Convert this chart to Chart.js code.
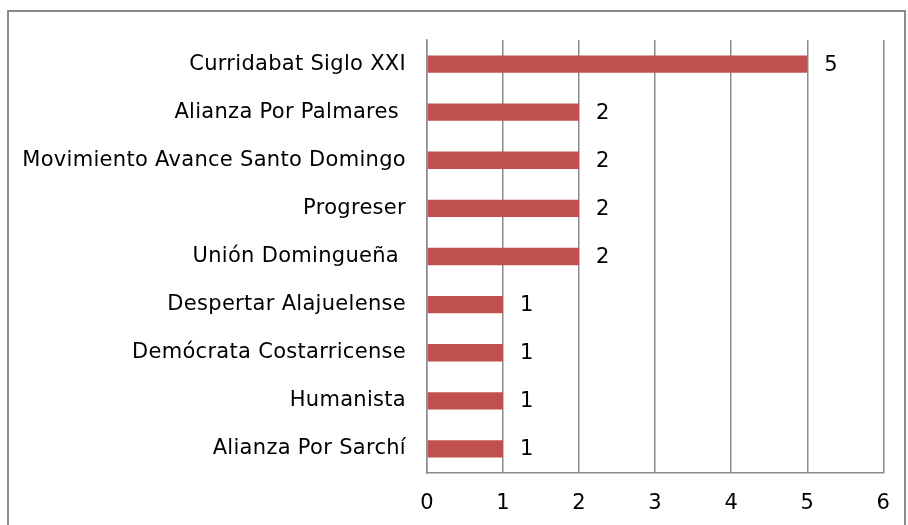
<!DOCTYPE html>
<html>
<head>
<meta charset="utf-8">
<script src="https://cdn.jsdelivr.net/npm/chart.js@4"></script>
<style>
    body { margin: 0; background: #fff; }
    #marco { position: absolute; left: 7px; top: 10px; width: 895px; height: 530px; border: 2px solid #8c8c8c; }
    #contenedor { position: absolute; left: 0; top: 0; width: 908px; height: 525px; }
</style>
</head>
<body>
<div id="marco"></div>
<div id="contenedor"><canvas id="grafico" width="908" height="525"></canvas></div>
<script>
const partidos = [
    'Curridabat Siglo XXI',
    'Alianza Por Palmares ',
    'Movimiento Avance Santo Domingo',
    'Progreser',
    'Unión Domingueña ',
    'Despertar Alajuelense',
    'Demócrata Costarricense',
    'Humanista',
    'Alianza Por Sarchí'
];
const valores = [5, 2, 2, 2, 2, 1, 1, 1, 1];
const marcasEje = [0, 1, 2, 3, 4, 5, 6];

const fuente = { family: '"DejaVu Sans", Verdana, sans-serif', size: 21 };

// un poco de espaciado para parecerse a Verdana
const espaciado = {
    id: 'espaciado',
    beforeDraw(chart) { chart.ctx.letterSpacing = '0.3px'; }
};

// escribe el valor a la derecha de cada barra
const etiquetasValor = {
    id: 'etiquetasValor',
    afterDatasetsDraw(chart) {
        const ctx = chart.ctx;
        const meta = chart.getDatasetMeta(0);
        ctx.save();
        ctx.font = '21px "DejaVu Sans", Verdana, sans-serif';
        ctx.fillStyle = '#000';
        ctx.textAlign = 'left';
        ctx.textBaseline = 'middle';
        meta.data.forEach((barra, i) => {
            ctx.fillText(String(valores[i]), barra.x + 17, barra.y + 1);
        });
        ctx.restore();
    }
};

new Chart(document.getElementById('grafico').getContext('2d'), {
    type: 'bar',
    data: {
        labels: partidos,
        datasets: [{
            data: valores,
            backgroundColor: '#c0504d',
            borderWidth: 0,
            barPercentage: 0.72,
            categoryPercentage: 0.5
        }]
    },
    options: {
        indexAxis: 'y',
        responsive: false,
        animation: false,
        layout: { padding: { left: 0, right: 24, top: 40, bottom: 0 } },
        plugins: { legend: { display: false }, tooltip: { enabled: false } },
        scales: {
            x: {
                min: 0,
                max: 6,
                afterBuildTicks(scale) { scale.ticks = marcasEje.map(v => ({ value: v })); },
                afterFit(scale) { scale.height = 52; },
                grid: { color: '#8c8c8c', lineWidth: 1.5, drawTicks: false },
                border: { color: '#8c8c8c', width: 1.5 },
                ticks: { color: '#000', font: fuente, padding: 18 }
            },
            y: {
                afterFit(scale) { scale.width = 427; },
                grid: { display: false, drawTicks: false },
                border: { color: '#8c8c8c', width: 1.5 },
                ticks: { color: '#000', font: fuente, padding: 21 }
            }
        }
    },
    plugins: [espaciado, etiquetasValor]
});
</script>
</body>
</html>
